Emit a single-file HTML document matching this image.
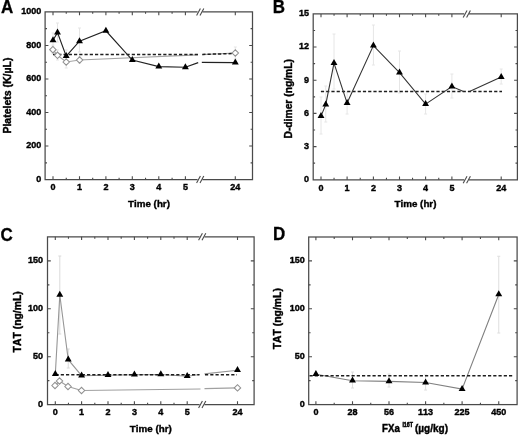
<!DOCTYPE html>
<html><head><meta charset="utf-8"><title>Figure</title>
<style>
html,body{margin:0;padding:0;background:#fff;}
text{font-kerning:none;}
body{width:520px;height:436px;overflow:hidden;font-family:"Liberation Sans",sans-serif;}
</style></head><body>
<svg width="520" height="436" viewBox="0 0 520 436" style="display:block;filter:blur(0.5px)"><path d="M197.6,11.9 H45.1 V179.6 H197.6 M202.39999999999998,179.6 H252.5 V11.9 H202.39999999999998" fill="none" stroke="#4a4a4a" stroke-width="1.25"/><path d="M196.60,15.40 L200.40,8.40" stroke="#4a4a4a" stroke-width="1.1"/><path d="M200.00,15.40 L203.80,8.40" stroke="#4a4a4a" stroke-width="1.1"/><path d="M196.60,183.10 L200.40,176.10" stroke="#4a4a4a" stroke-width="1.1"/><path d="M200.00,183.10 L203.80,176.10" stroke="#4a4a4a" stroke-width="1.1"/><path d="M53.00,179.6 v-3.3 M53.00,11.9 v3.3 M79.50,179.6 v-3.3 M79.50,11.9 v3.3 M105.90,179.6 v-3.3 M105.90,11.9 v3.3 M132.30,179.6 v-3.3 M132.30,11.9 v3.3 M158.80,179.6 v-3.3 M158.80,11.9 v3.3 M185.40,179.6 v-3.3 M185.40,11.9 v3.3 M235.30,179.6 v-3.3 M235.30,11.9 v3.3 M66.25,179.6 v-1.9 M66.25,11.9 v1.9 M92.70,179.6 v-1.9 M92.70,11.9 v1.9 M119.10,179.6 v-1.9 M119.10,11.9 v1.9 M145.55,179.6 v-1.9 M145.55,11.9 v1.9 M172.10,179.6 v-1.9 M172.10,11.9 v1.9 M45.1,146.06 h3.3 M252.5,146.06 h-3.3 M45.1,112.52 h3.3 M252.5,112.52 h-3.3 M45.1,78.98 h3.3 M252.5,78.98 h-3.3 M45.1,45.44 h3.3 M252.5,45.44 h-3.3 M45.1,162.83 h1.9 M252.5,162.83 h-1.9 M45.1,129.29 h1.9 M252.5,129.29 h-1.9 M45.1,95.75 h1.9 M252.5,95.75 h-1.9 M45.1,62.21 h1.9 M252.5,62.21 h-1.9 M45.1,28.67 h1.9 M252.5,28.67 h-1.9 " stroke="#4a4a4a" stroke-width="1.1" fill="none"/>
<text transform="translate(41.20,182.00) scale(0.96,1)" font-size="9.4" text-anchor="end" fill="#000" stroke="#000" stroke-width="0.4" font-family="Liberation Sans, sans-serif" font-weight="bold">0</text>
<text transform="translate(41.20,148.46) scale(0.96,1)" font-size="9.4" text-anchor="end" fill="#000" stroke="#000" stroke-width="0.4" font-family="Liberation Sans, sans-serif" font-weight="bold">200</text>
<text transform="translate(41.20,114.92) scale(0.96,1)" font-size="9.4" text-anchor="end" fill="#000" stroke="#000" stroke-width="0.4" font-family="Liberation Sans, sans-serif" font-weight="bold">400</text>
<text transform="translate(41.20,81.38) scale(0.96,1)" font-size="9.4" text-anchor="end" fill="#000" stroke="#000" stroke-width="0.4" font-family="Liberation Sans, sans-serif" font-weight="bold">600</text>
<text transform="translate(41.20,47.84) scale(0.96,1)" font-size="9.4" text-anchor="end" fill="#000" stroke="#000" stroke-width="0.4" font-family="Liberation Sans, sans-serif" font-weight="bold">800</text>
<text transform="translate(41.20,14.30) scale(0.96,1)" font-size="9.4" text-anchor="end" fill="#000" stroke="#000" stroke-width="0.4" font-family="Liberation Sans, sans-serif" font-weight="bold">1000</text>
<text transform="translate(53.00,190.40) scale(0.96,1)" font-size="9.4" text-anchor="middle" fill="#000" stroke="#000" stroke-width="0.4" font-family="Liberation Sans, sans-serif" font-weight="bold">0</text>
<text transform="translate(79.50,190.40) scale(0.96,1)" font-size="9.4" text-anchor="middle" fill="#000" stroke="#000" stroke-width="0.4" font-family="Liberation Sans, sans-serif" font-weight="bold">1</text>
<text transform="translate(105.90,190.40) scale(0.96,1)" font-size="9.4" text-anchor="middle" fill="#000" stroke="#000" stroke-width="0.4" font-family="Liberation Sans, sans-serif" font-weight="bold">2</text>
<text transform="translate(132.30,190.40) scale(0.96,1)" font-size="9.4" text-anchor="middle" fill="#000" stroke="#000" stroke-width="0.4" font-family="Liberation Sans, sans-serif" font-weight="bold">3</text>
<text transform="translate(158.80,190.40) scale(0.96,1)" font-size="9.4" text-anchor="middle" fill="#000" stroke="#000" stroke-width="0.4" font-family="Liberation Sans, sans-serif" font-weight="bold">4</text>
<text transform="translate(185.40,190.40) scale(0.96,1)" font-size="9.4" text-anchor="middle" fill="#000" stroke="#000" stroke-width="0.4" font-family="Liberation Sans, sans-serif" font-weight="bold">5</text>
<text transform="translate(235.30,190.40) scale(0.96,1)" font-size="9.4" text-anchor="middle" fill="#000" stroke="#000" stroke-width="0.4" font-family="Liberation Sans, sans-serif" font-weight="bold">24</text>
<text transform="translate(149.00,206.80) scale(0.99,1)" font-size="9.9" text-anchor="middle" fill="#000" stroke="#000" stroke-width="0.4" font-family="Liberation Sans, sans-serif" font-weight="bold">Time (hr)</text>
<text transform="translate(11.20,95.60) rotate(-90) scale(1.04,1)" font-size="10.1" text-anchor="middle" fill="#000" stroke="#000" stroke-width="0.4" font-family="Liberation Sans, sans-serif" font-weight="bold">Platelets (K/µL)</text>
<text transform="translate(1.10,13.35) scale(0.97,1)" font-size="17.5" text-anchor="start" fill="#000" stroke="#000" stroke-width="0.3" font-family="Liberation Sans, sans-serif" font-weight="bold">A</text>
<path d="M53.00,33.00 V47.00 M51.50,33.00 h3.0 M51.50,47.00 h3.0" stroke="#e5e5e5" stroke-width="1" fill="none"/>
<path d="M57.50,23.00 V42.00 M56.00,23.00 h3.0 M56.00,42.00 h3.0" stroke="#e5e5e5" stroke-width="1" fill="none"/>
<path d="M66.20,50.00 V62.00 M64.70,50.00 h3.0 M64.70,62.00 h3.0" stroke="#e5e5e5" stroke-width="1" fill="none"/>
<path d="M79.50,28.00 V52.00 M78.00,28.00 h3.0 M78.00,52.00 h3.0" stroke="#e5e5e5" stroke-width="1" fill="none"/>
<path d="M52.90,45.00 V54.00 M51.40,45.00 h3.0 M51.40,54.00 h3.0" stroke="#e5e5e5" stroke-width="1" fill="none"/>
<path d="M57.50,50.00 V60.00 M56.00,50.00 h3.0 M56.00,60.00 h3.0" stroke="#e5e5e5" stroke-width="1" fill="none"/>
<path d="M66.20,56.00 V68.00 M64.70,56.00 h3.0 M64.70,68.00 h3.0" stroke="#e5e5e5" stroke-width="1" fill="none"/>
<path d="M79.60,57.00 V63.00 M78.10,57.00 h3.0 M78.10,63.00 h3.0" stroke="#e5e5e5" stroke-width="1" fill="none"/>
<path d="M235.30,47.00 V59.00 M233.80,47.00 h3.0 M233.80,59.00 h3.0" stroke="#e5e5e5" stroke-width="1" fill="none"/>
<path d="M52.90,49.70 L57.50,55.30 L66.20,62.00 L79.60,60.00 L198.00,54.90" stroke="#a4a4a4" stroke-width="1.15" fill="none"/>
<path d="M202.30,54.60 L235.30,53.00" stroke="#a4a4a4" stroke-width="1.15" fill="none"/>
<path d="M53.00,54.50 L198.00,54.50" stroke="#1e1e1e" stroke-width="1.5" fill="none" stroke-dasharray="3.2 2.05"/>
<path d="M202.30,54.40 L232.00,53.60" stroke="#1e1e1e" stroke-width="1.5" fill="none" stroke-dasharray="3.2 2.05"/>
<path d="M53.00,40.20 L57.50,32.60 L66.20,56.10 L79.50,41.20 L105.90,30.80 L132.30,60.10 L158.80,66.60 L185.40,67.20 L198.20,62.60" stroke="#222" stroke-width="1.15" fill="none"/>
<path d="M201.80,62.40 L235.30,62.60" stroke="#222" stroke-width="1.15" fill="none"/>
<path d="M49.70,49.70 L52.90,46.50 L56.10,49.70 L52.90,52.90 Z" fill="#fff" stroke="#909090" stroke-width="1.05"/>
<path d="M54.30,55.30 L57.50,52.10 L60.70,55.30 L57.50,58.50 Z" fill="#fff" stroke="#909090" stroke-width="1.05"/>
<path d="M63.00,62.00 L66.20,58.80 L69.40,62.00 L66.20,65.20 Z" fill="#fff" stroke="#909090" stroke-width="1.05"/>
<path d="M76.40,60.00 L79.60,56.80 L82.80,60.00 L79.60,63.20 Z" fill="#fff" stroke="#909090" stroke-width="1.05"/>
<path d="M232.10,53.00 L235.30,49.80 L238.50,53.00 L235.30,56.20 Z" fill="#fff" stroke="#909090" stroke-width="1.05"/>
<path d="M49.55,42.20 L56.45,42.20 L53.00,36.20 Z" fill="#000"/>
<path d="M54.05,34.60 L60.95,34.60 L57.50,28.60 Z" fill="#000"/>
<path d="M62.75,58.10 L69.65,58.10 L66.20,52.10 Z" fill="#000"/>
<path d="M76.05,43.20 L82.95,43.20 L79.50,37.20 Z" fill="#000"/>
<path d="M102.45,32.80 L109.35,32.80 L105.90,26.80 Z" fill="#000"/>
<path d="M128.85,62.10 L135.75,62.10 L132.30,56.10 Z" fill="#000"/>
<path d="M155.35,68.60 L162.25,68.60 L158.80,62.60 Z" fill="#000"/>
<path d="M181.95,69.20 L188.85,69.20 L185.40,63.20 Z" fill="#000"/>
<path d="M231.85,64.60 L238.75,64.60 L235.30,58.60 Z" fill="#000"/>
<path d="M464.2,13.9 H313.2 V179.75 H464.2 M469.0,179.75 H517.4 V13.9 H469.0" fill="none" stroke="#4a4a4a" stroke-width="1.25"/><path d="M463.20,17.40 L467.00,10.40" stroke="#4a4a4a" stroke-width="1.1"/><path d="M466.60,17.40 L470.40,10.40" stroke="#4a4a4a" stroke-width="1.1"/><path d="M463.20,183.25 L467.00,176.25" stroke="#4a4a4a" stroke-width="1.1"/><path d="M466.60,183.25 L470.40,176.25" stroke="#4a4a4a" stroke-width="1.1"/><path d="M321.00,179.75 v-3.3 M321.00,13.9 v3.3 M347.10,179.75 v-3.3 M347.10,13.9 v3.3 M373.40,179.75 v-3.3 M373.40,13.9 v3.3 M399.50,179.75 v-3.3 M399.50,13.9 v3.3 M425.60,179.75 v-3.3 M425.60,13.9 v3.3 M451.90,179.75 v-3.3 M451.90,13.9 v3.3 M501.20,179.75 v-3.3 M501.20,13.9 v3.3 M334.05,179.75 v-1.9 M334.05,13.9 v1.9 M360.25,179.75 v-1.9 M360.25,13.9 v1.9 M386.45,179.75 v-1.9 M386.45,13.9 v1.9 M412.55,179.75 v-1.9 M412.55,13.9 v1.9 M438.75,179.75 v-1.9 M438.75,13.9 v1.9 M313.2,146.58 h3.3 M517.4,146.58 h-3.3 M313.2,113.41 h3.3 M517.4,113.41 h-3.3 M313.2,80.24 h3.3 M517.4,80.24 h-3.3 M313.2,47.07 h3.3 M517.4,47.07 h-3.3 M313.2,163.17 h1.9 M517.4,163.17 h-1.9 M313.2,130.00 h1.9 M517.4,130.00 h-1.9 M313.2,96.83 h1.9 M517.4,96.83 h-1.9 M313.2,63.66 h1.9 M517.4,63.66 h-1.9 M313.2,30.49 h1.9 M517.4,30.49 h-1.9 " stroke="#4a4a4a" stroke-width="1.1" fill="none"/>
<text transform="translate(309.00,182.15) scale(0.96,1)" font-size="9.4" text-anchor="end" fill="#000" stroke="#000" stroke-width="0.4" font-family="Liberation Sans, sans-serif" font-weight="bold">0</text>
<text transform="translate(309.00,148.98) scale(0.96,1)" font-size="9.4" text-anchor="end" fill="#000" stroke="#000" stroke-width="0.4" font-family="Liberation Sans, sans-serif" font-weight="bold">3</text>
<text transform="translate(309.00,115.81) scale(0.96,1)" font-size="9.4" text-anchor="end" fill="#000" stroke="#000" stroke-width="0.4" font-family="Liberation Sans, sans-serif" font-weight="bold">6</text>
<text transform="translate(309.00,82.64) scale(0.96,1)" font-size="9.4" text-anchor="end" fill="#000" stroke="#000" stroke-width="0.4" font-family="Liberation Sans, sans-serif" font-weight="bold">9</text>
<text transform="translate(309.00,49.47) scale(0.96,1)" font-size="9.4" text-anchor="end" fill="#000" stroke="#000" stroke-width="0.4" font-family="Liberation Sans, sans-serif" font-weight="bold">12</text>
<text transform="translate(309.00,16.30) scale(0.96,1)" font-size="9.4" text-anchor="end" fill="#000" stroke="#000" stroke-width="0.4" font-family="Liberation Sans, sans-serif" font-weight="bold">15</text>
<text transform="translate(321.00,190.55) scale(0.96,1)" font-size="9.4" text-anchor="middle" fill="#000" stroke="#000" stroke-width="0.4" font-family="Liberation Sans, sans-serif" font-weight="bold">0</text>
<text transform="translate(347.10,190.55) scale(0.96,1)" font-size="9.4" text-anchor="middle" fill="#000" stroke="#000" stroke-width="0.4" font-family="Liberation Sans, sans-serif" font-weight="bold">1</text>
<text transform="translate(373.40,190.55) scale(0.96,1)" font-size="9.4" text-anchor="middle" fill="#000" stroke="#000" stroke-width="0.4" font-family="Liberation Sans, sans-serif" font-weight="bold">2</text>
<text transform="translate(399.50,190.55) scale(0.96,1)" font-size="9.4" text-anchor="middle" fill="#000" stroke="#000" stroke-width="0.4" font-family="Liberation Sans, sans-serif" font-weight="bold">3</text>
<text transform="translate(425.60,190.55) scale(0.96,1)" font-size="9.4" text-anchor="middle" fill="#000" stroke="#000" stroke-width="0.4" font-family="Liberation Sans, sans-serif" font-weight="bold">4</text>
<text transform="translate(451.90,190.55) scale(0.96,1)" font-size="9.4" text-anchor="middle" fill="#000" stroke="#000" stroke-width="0.4" font-family="Liberation Sans, sans-serif" font-weight="bold">5</text>
<text transform="translate(501.20,190.55) scale(0.96,1)" font-size="9.4" text-anchor="middle" fill="#000" stroke="#000" stroke-width="0.4" font-family="Liberation Sans, sans-serif" font-weight="bold">24</text>
<text transform="translate(415.50,206.95) scale(0.99,1)" font-size="9.9" text-anchor="middle" fill="#000" stroke="#000" stroke-width="0.4" font-family="Liberation Sans, sans-serif" font-weight="bold">Time (hr)</text>
<text transform="translate(292.20,98.80) rotate(-90) scale(1.02,1)" font-size="10.1" text-anchor="middle" fill="#000" stroke="#000" stroke-width="0.4" font-family="Liberation Sans, sans-serif" font-weight="bold">D-dimer (ng/mL)</text>
<text transform="translate(272.70,13.30) scale(0.97,1)" font-size="17.5" text-anchor="start" fill="#000" stroke="#000" stroke-width="0.3" font-family="Liberation Sans, sans-serif" font-weight="bold">B</text>
<path d="M321.00,97.00 V134.00 M319.50,97.00 h3.0 M319.50,134.00 h3.0" stroke="#e6e6e6" stroke-width="1" fill="none"/>
<path d="M325.75,86.00 V122.00 M324.25,86.00 h3.0 M324.25,122.00 h3.0" stroke="#e6e6e6" stroke-width="1" fill="none"/>
<path d="M334.00,34.00 V89.00 M332.50,34.00 h3.0 M332.50,89.00 h3.0" stroke="#e6e6e6" stroke-width="1" fill="none"/>
<path d="M347.10,92.00 V114.00 M345.60,92.00 h3.0 M345.60,114.00 h3.0" stroke="#e6e6e6" stroke-width="1" fill="none"/>
<path d="M373.40,25.00 V65.00 M371.90,25.00 h3.0 M371.90,65.00 h3.0" stroke="#e6e6e6" stroke-width="1" fill="none"/>
<path d="M399.50,51.00 V93.00 M398.00,51.00 h3.0 M398.00,93.00 h3.0" stroke="#e6e6e6" stroke-width="1" fill="none"/>
<path d="M425.60,94.00 V114.00 M424.10,94.00 h3.0 M424.10,114.00 h3.0" stroke="#e6e6e6" stroke-width="1" fill="none"/>
<path d="M451.90,74.00 V98.00 M450.40,74.00 h3.0 M450.40,98.00 h3.0" stroke="#e6e6e6" stroke-width="1" fill="none"/>
<path d="M501.20,69.00 V84.00 M499.70,69.00 h3.0 M499.70,84.00 h3.0" stroke="#e6e6e6" stroke-width="1" fill="none"/>
<path d="M320.90,91.50 L502.00,91.50" stroke="#1e1e1e" stroke-width="1.5" fill="none" stroke-dasharray="3.2 2.05"/>
<path d="M321.00,116.10 L325.75,104.60 L334.00,63.10 L347.10,103.10 L373.40,45.60 L399.50,72.60 L425.60,104.10 L451.90,86.60 L463.50,91.60" stroke="#333" stroke-width="1.1" fill="none"/>
<path d="M470.00,91.20 L501.20,77.10" stroke="#333" stroke-width="1.1" fill="none"/>
<path d="M317.55,118.10 L324.45,118.10 L321.00,112.10 Z" fill="#000"/>
<path d="M322.30,106.60 L329.20,106.60 L325.75,100.60 Z" fill="#000"/>
<path d="M330.55,65.10 L337.45,65.10 L334.00,59.10 Z" fill="#000"/>
<path d="M343.65,105.10 L350.55,105.10 L347.10,99.10 Z" fill="#000"/>
<path d="M369.95,47.60 L376.85,47.60 L373.40,41.60 Z" fill="#000"/>
<path d="M396.05,74.60 L402.95,74.60 L399.50,68.60 Z" fill="#000"/>
<path d="M422.15,106.10 L429.05,106.10 L425.60,100.10 Z" fill="#000"/>
<path d="M448.45,88.60 L455.35,88.60 L451.90,82.60 Z" fill="#000"/>
<path d="M497.75,79.10 L504.65,79.10 L501.20,73.10 Z" fill="#000"/>
<path d="M199.6,236.75 H47.5 V404.6 H199.6 M204.39999999999998,404.6 H254.1 V236.75 H204.39999999999998" fill="none" stroke="#4a4a4a" stroke-width="1.25"/><path d="M198.60,240.25 L202.40,233.25" stroke="#4a4a4a" stroke-width="1.1"/><path d="M202.00,240.25 L205.80,233.25" stroke="#4a4a4a" stroke-width="1.1"/><path d="M198.60,408.10 L202.40,401.10" stroke="#4a4a4a" stroke-width="1.1"/><path d="M202.00,408.10 L205.80,401.10" stroke="#4a4a4a" stroke-width="1.1"/><path d="M55.30,404.6 v-3.3 M55.30,236.75 v3.3 M81.60,404.6 v-3.3 M81.60,236.75 v3.3 M108.00,404.6 v-3.3 M108.00,236.75 v3.3 M134.40,404.6 v-3.3 M134.40,236.75 v3.3 M160.80,404.6 v-3.3 M160.80,236.75 v3.3 M187.20,404.6 v-3.3 M187.20,236.75 v3.3 M237.50,404.6 v-3.3 M237.50,236.75 v3.3 M68.45,404.6 v-1.9 M68.45,236.75 v1.9 M94.80,404.6 v-1.9 M94.80,236.75 v1.9 M121.20,404.6 v-1.9 M121.20,236.75 v1.9 M147.60,404.6 v-1.9 M147.60,236.75 v1.9 M174.00,404.6 v-1.9 M174.00,236.75 v1.9 M47.5,356.70 h3.3 M254.1,356.70 h-3.3 M47.5,308.80 h3.3 M254.1,308.80 h-3.3 M47.5,260.90 h3.3 M254.1,260.90 h-3.3 M47.5,380.65 h1.9 M254.1,380.65 h-1.9 M47.5,332.75 h1.9 M254.1,332.75 h-1.9 M47.5,284.85 h1.9 M254.1,284.85 h-1.9 " stroke="#4a4a4a" stroke-width="1.1" fill="none"/>
<text transform="translate(43.10,407.00) scale(0.96,1)" font-size="9.4" text-anchor="end" fill="#000" stroke="#000" stroke-width="0.4" font-family="Liberation Sans, sans-serif" font-weight="bold">0</text>
<text transform="translate(43.10,359.10) scale(0.96,1)" font-size="9.4" text-anchor="end" fill="#000" stroke="#000" stroke-width="0.4" font-family="Liberation Sans, sans-serif" font-weight="bold">50</text>
<text transform="translate(43.10,311.20) scale(0.96,1)" font-size="9.4" text-anchor="end" fill="#000" stroke="#000" stroke-width="0.4" font-family="Liberation Sans, sans-serif" font-weight="bold">100</text>
<text transform="translate(43.10,263.30) scale(0.96,1)" font-size="9.4" text-anchor="end" fill="#000" stroke="#000" stroke-width="0.4" font-family="Liberation Sans, sans-serif" font-weight="bold">150</text>
<text transform="translate(55.30,415.40) scale(0.96,1)" font-size="9.4" text-anchor="middle" fill="#000" stroke="#000" stroke-width="0.4" font-family="Liberation Sans, sans-serif" font-weight="bold">0</text>
<text transform="translate(81.60,415.40) scale(0.96,1)" font-size="9.4" text-anchor="middle" fill="#000" stroke="#000" stroke-width="0.4" font-family="Liberation Sans, sans-serif" font-weight="bold">1</text>
<text transform="translate(108.00,415.40) scale(0.96,1)" font-size="9.4" text-anchor="middle" fill="#000" stroke="#000" stroke-width="0.4" font-family="Liberation Sans, sans-serif" font-weight="bold">2</text>
<text transform="translate(134.40,415.40) scale(0.96,1)" font-size="9.4" text-anchor="middle" fill="#000" stroke="#000" stroke-width="0.4" font-family="Liberation Sans, sans-serif" font-weight="bold">3</text>
<text transform="translate(160.80,415.40) scale(0.96,1)" font-size="9.4" text-anchor="middle" fill="#000" stroke="#000" stroke-width="0.4" font-family="Liberation Sans, sans-serif" font-weight="bold">4</text>
<text transform="translate(187.20,415.40) scale(0.96,1)" font-size="9.4" text-anchor="middle" fill="#000" stroke="#000" stroke-width="0.4" font-family="Liberation Sans, sans-serif" font-weight="bold">5</text>
<text transform="translate(237.50,415.40) scale(0.96,1)" font-size="9.4" text-anchor="middle" fill="#000" stroke="#000" stroke-width="0.4" font-family="Liberation Sans, sans-serif" font-weight="bold">24</text>
<text transform="translate(150.80,431.80) scale(0.99,1)" font-size="9.9" text-anchor="middle" fill="#000" stroke="#000" stroke-width="0.4" font-family="Liberation Sans, sans-serif" font-weight="bold">Time (hr)</text>
<text transform="translate(20.80,321.80) rotate(-90) scale(1.03,1)" font-size="10.1" text-anchor="middle" fill="#000" stroke="#000" stroke-width="0.4" font-family="Liberation Sans, sans-serif" font-weight="bold">TAT (ng/mL)</text>
<text transform="translate(0.50,240.80) scale(0.97,1)" font-size="17.5" text-anchor="start" fill="#000" stroke="#000" stroke-width="0.3" font-family="Liberation Sans, sans-serif" font-weight="bold">C</text>
<path d="M59.80,256.00 V334.00 M58.30,256.00 h3.0 M58.30,334.00 h3.0" stroke="#dadada" stroke-width="1" fill="none"/>
<path d="M68.25,349.00 V368.00 M66.75,349.00 h3.0 M66.75,368.00 h3.0" stroke="#dadada" stroke-width="1" fill="none"/>
<path d="M55.00,385.50 L59.50,381.00 L68.00,386.50 L81.50,390.50 L200.50,389.00" stroke="#a0a0a0" stroke-width="1.2" fill="none"/>
<path d="M204.50,388.60 L237.50,387.90" stroke="#a0a0a0" stroke-width="1.2" fill="none"/>
<path d="M55.30,374.20 L59.80,294.95 L68.25,359.70 L81.60,375.70 L108.00,375.20 L134.40,374.70 L160.80,374.45 L187.20,376.20 L199.50,374.50" stroke="#969696" stroke-width="1.1" fill="none"/>
<path d="M204.50,373.90 L237.50,370.20" stroke="#969696" stroke-width="1.1" fill="none"/>
<path d="M55.50,374.75 L199.50,374.75" stroke="#1e1e1e" stroke-width="1.5" fill="none" stroke-dasharray="3.2 2.05"/>
<path d="M205.00,374.75 L237.00,374.75" stroke="#1e1e1e" stroke-width="1.5" fill="none" stroke-dasharray="3.2 2.05"/>
<path d="M51.80,385.50 L55.00,382.30 L58.20,385.50 L55.00,388.70 Z" fill="#fff" stroke="#909090" stroke-width="1.05"/>
<path d="M56.30,381.00 L59.50,377.80 L62.70,381.00 L59.50,384.20 Z" fill="#fff" stroke="#909090" stroke-width="1.05"/>
<path d="M64.80,386.50 L68.00,383.30 L71.20,386.50 L68.00,389.70 Z" fill="#fff" stroke="#909090" stroke-width="1.05"/>
<path d="M78.30,390.50 L81.50,387.30 L84.70,390.50 L81.50,393.70 Z" fill="#fff" stroke="#909090" stroke-width="1.05"/>
<path d="M234.30,387.90 L237.50,384.70 L240.70,387.90 L237.50,391.10 Z" fill="#fff" stroke="#909090" stroke-width="1.05"/>
<path d="M51.85,376.10 L58.75,376.10 L55.30,370.10 Z" fill="#000"/>
<path d="M56.35,296.85 L63.25,296.85 L59.80,290.85 Z" fill="#000"/>
<path d="M64.80,361.60 L71.70,361.60 L68.25,355.60 Z" fill="#000"/>
<path d="M78.15,377.60 L85.05,377.60 L81.60,371.60 Z" fill="#000"/>
<path d="M104.55,377.10 L111.45,377.10 L108.00,371.10 Z" fill="#000"/>
<path d="M130.95,376.60 L137.85,376.60 L134.40,370.60 Z" fill="#000"/>
<path d="M157.35,376.35 L164.25,376.35 L160.80,370.35 Z" fill="#000"/>
<path d="M183.75,378.10 L190.65,378.10 L187.20,372.10 Z" fill="#000"/>
<path d="M234.05,372.10 L240.95,372.10 L237.50,366.10 Z" fill="#000"/>
<rect x="308.7" y="237" width="208.40000000000003" height="167.60000000000002" fill="none" stroke="#4a4a4a" stroke-width="1.25"/><path d="M315.90,404.6 v-3.3 M315.90,237 v3.3 M352.50,404.6 v-3.3 M352.50,237 v3.3 M389.00,404.6 v-3.3 M389.00,237 v3.3 M425.60,404.6 v-3.3 M425.60,237 v3.3 M462.10,404.6 v-3.3 M462.10,237 v3.3 M498.75,404.6 v-3.3 M498.75,237 v3.3 M334.20,404.6 v-1.9 M334.20,237 v1.9 M370.75,404.6 v-1.9 M370.75,237 v1.9 M407.30,404.6 v-1.9 M407.30,237 v1.9 M443.85,404.6 v-1.9 M443.85,237 v1.9 M480.43,404.6 v-1.9 M480.43,237 v1.9 M308.7,356.70 h3.3 M517.1,356.70 h-3.3 M308.7,308.80 h3.3 M517.1,308.80 h-3.3 M308.7,260.90 h3.3 M517.1,260.90 h-3.3 M308.7,380.65 h1.9 M517.1,380.65 h-1.9 M308.7,332.75 h1.9 M517.1,332.75 h-1.9 M308.7,284.85 h1.9 M517.1,284.85 h-1.9 " stroke="#4a4a4a" stroke-width="1.1" fill="none"/>
<text transform="translate(304.70,407.00) scale(0.96,1)" font-size="9.4" text-anchor="end" fill="#000" stroke="#000" stroke-width="0.4" font-family="Liberation Sans, sans-serif" font-weight="bold">0</text>
<text transform="translate(304.70,359.10) scale(0.96,1)" font-size="9.4" text-anchor="end" fill="#000" stroke="#000" stroke-width="0.4" font-family="Liberation Sans, sans-serif" font-weight="bold">50</text>
<text transform="translate(304.70,311.20) scale(0.96,1)" font-size="9.4" text-anchor="end" fill="#000" stroke="#000" stroke-width="0.4" font-family="Liberation Sans, sans-serif" font-weight="bold">100</text>
<text transform="translate(304.70,263.30) scale(0.96,1)" font-size="9.4" text-anchor="end" fill="#000" stroke="#000" stroke-width="0.4" font-family="Liberation Sans, sans-serif" font-weight="bold">150</text>
<text transform="translate(315.90,415.40) scale(0.96,1)" font-size="9.4" text-anchor="middle" fill="#000" stroke="#000" stroke-width="0.4" font-family="Liberation Sans, sans-serif" font-weight="bold">0</text>
<text transform="translate(352.50,415.40) scale(0.96,1)" font-size="9.4" text-anchor="middle" fill="#000" stroke="#000" stroke-width="0.4" font-family="Liberation Sans, sans-serif" font-weight="bold">28</text>
<text transform="translate(389.00,415.40) scale(0.96,1)" font-size="9.4" text-anchor="middle" fill="#000" stroke="#000" stroke-width="0.4" font-family="Liberation Sans, sans-serif" font-weight="bold">56</text>
<text transform="translate(425.60,415.40) scale(0.96,1)" font-size="9.4" text-anchor="middle" fill="#000" stroke="#000" stroke-width="0.4" font-family="Liberation Sans, sans-serif" font-weight="bold">113</text>
<text transform="translate(462.10,415.40) scale(0.96,1)" font-size="9.4" text-anchor="middle" fill="#000" stroke="#000" stroke-width="0.4" font-family="Liberation Sans, sans-serif" font-weight="bold">225</text>
<text transform="translate(498.75,415.40) scale(0.96,1)" font-size="9.4" text-anchor="middle" fill="#000" stroke="#000" stroke-width="0.4" font-family="Liberation Sans, sans-serif" font-weight="bold">450</text>
<text transform="translate(382.00,431.60) scale(0.97,1)" font-size="10.0" text-anchor="start" fill="#000" stroke="#000" stroke-width="0.4" font-family="Liberation Sans, sans-serif" font-weight="bold">FXa</text>
<text transform="translate(402.40,426.90) scale(0.8,1)" font-size="6.6" text-anchor="start" fill="#000" stroke="#000" stroke-width="0.5" font-family="Liberation Sans, sans-serif" font-weight="bold">I16T</text>
<text transform="translate(415.00,431.60) scale(1.0,1)" font-size="10.0" text-anchor="start" fill="#000" stroke="#000" stroke-width="0.4" font-family="Liberation Sans, sans-serif" font-weight="bold">(µg/kg)</text>
<text transform="translate(281.00,318.70) rotate(-90) scale(1.03,1)" font-size="10.1" text-anchor="middle" fill="#000" stroke="#000" stroke-width="0.4" font-family="Liberation Sans, sans-serif" font-weight="bold">TAT (ng/mL)</text>
<text transform="translate(272.90,240.40) scale(0.97,1)" font-size="17.5" text-anchor="start" fill="#000" stroke="#000" stroke-width="0.3" font-family="Liberation Sans, sans-serif" font-weight="bold">D</text>
<path d="M352.50,372.00 V388.00 M351.00,372.00 h3.0 M351.00,388.00 h3.0" stroke="#dedede" stroke-width="1" fill="none"/>
<path d="M389.00,374.00 V387.00 M387.50,374.00 h3.0 M387.50,387.00 h3.0" stroke="#dedede" stroke-width="1" fill="none"/>
<path d="M425.60,375.00 V390.00 M424.10,375.00 h3.0 M424.10,390.00 h3.0" stroke="#dedede" stroke-width="1" fill="none"/>
<path d="M498.75,256.25 V333.00 M497.25,256.25 h3.0 M497.25,333.00 h3.0" stroke="#dedede" stroke-width="1" fill="none"/>
<path d="M315.90,374.20 L352.50,380.70 L389.00,381.40 L425.60,382.50 L462.10,389.10 L498.75,294.45" stroke="#808080" stroke-width="1.1" fill="none"/>
<path d="M309.50,375.70 L514.00,375.70" stroke="#1e1e1e" stroke-width="1.5" fill="none" stroke-dasharray="3.2 2.05"/>
<path d="M312.45,376.10 L319.35,376.10 L315.90,370.10 Z" fill="#000"/>
<path d="M349.05,382.60 L355.95,382.60 L352.50,376.60 Z" fill="#000"/>
<path d="M385.55,383.30 L392.45,383.30 L389.00,377.30 Z" fill="#000"/>
<path d="M422.15,384.40 L429.05,384.40 L425.60,378.40 Z" fill="#000"/>
<path d="M458.65,391.00 L465.55,391.00 L462.10,385.00 Z" fill="#000"/>
<path d="M495.30,296.35 L502.20,296.35 L498.75,290.35 Z" fill="#000"/></svg>
</body></html>
